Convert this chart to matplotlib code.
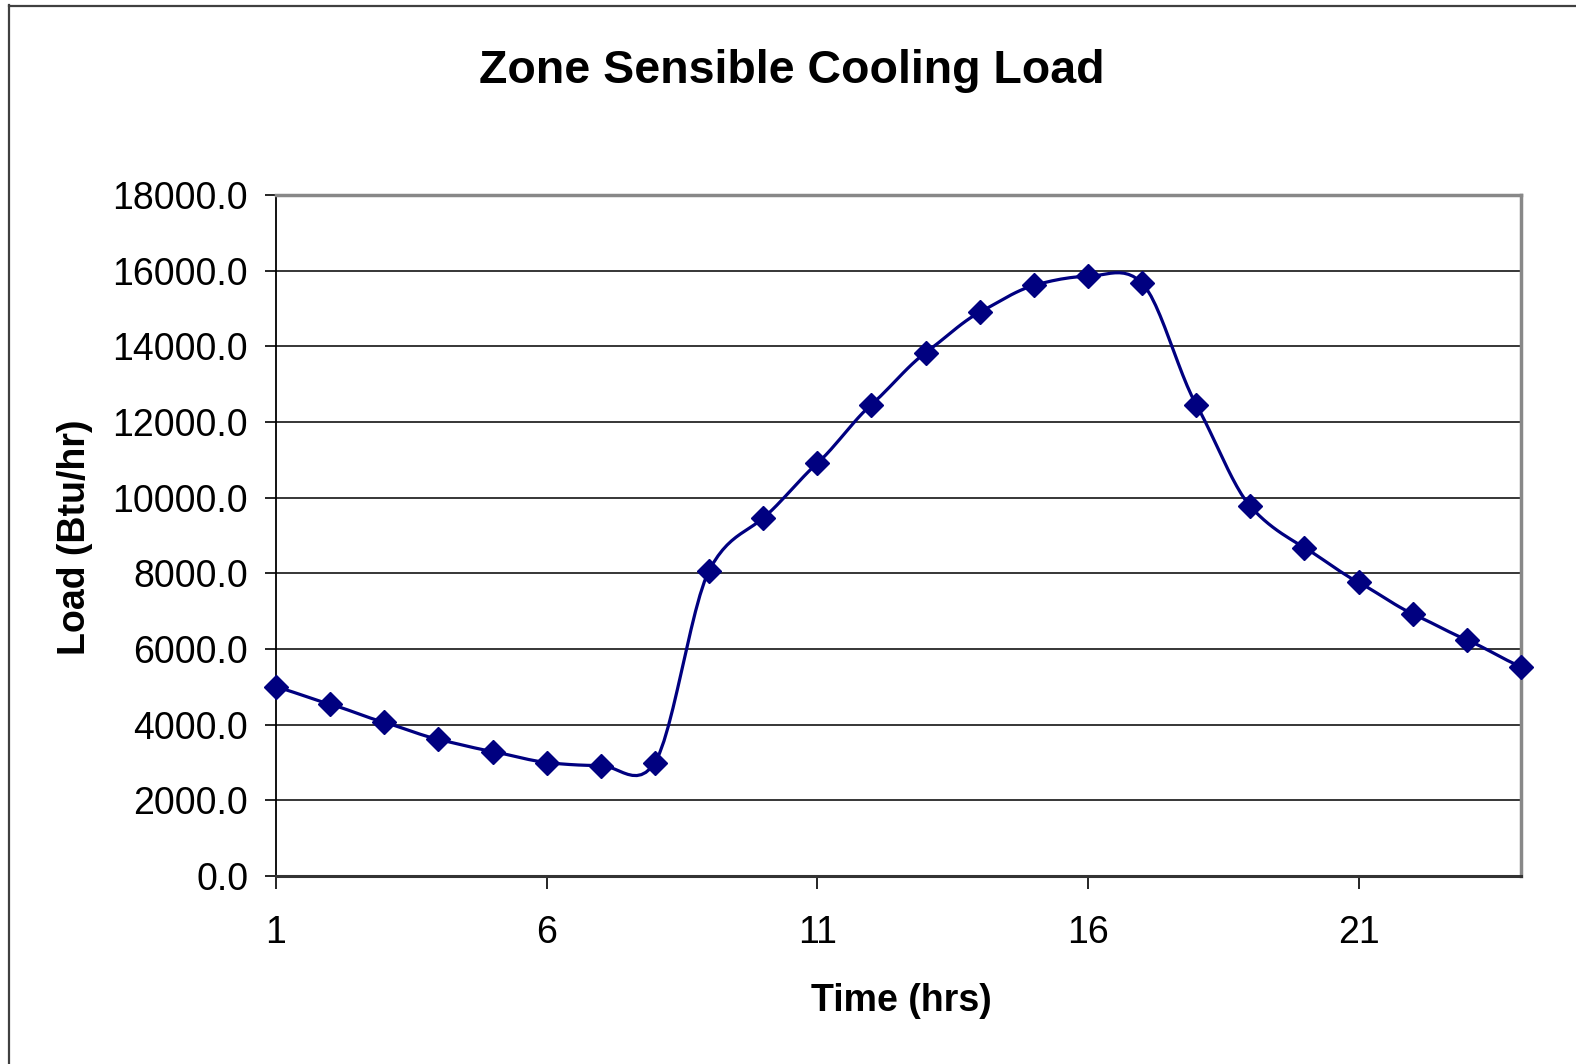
import numpy as np
import matplotlib
matplotlib.use("Agg")
import matplotlib.pyplot as plt
from matplotlib.lines import Line2D

plt.rcParams['font.family'] = ['Liberation Sans', 'DejaVu Sans']

hours = list(range(1, 25))
load = [5000, 4540, 4060, 3610, 3290, 3000, 2920, 3000, 8070, 9460,
        10910, 12460, 13830, 14900, 15610, 15850, 15670, 12460, 9770, 8680,
        7760, 6930, 6240, 5530]
xticks = [1, 6, 11, 16, 21]
yticks = list(range(0, 18001, 2000))

title = "Zone Sensible Cooling Load"
xlabel = "Time (hrs)"
ylabel = "Load (Btu/hr)"
navy = "#000080"


def catmull_rom(x, y, n=12, k=0.85):
    x = np.asarray(x, float)
    y = np.asarray(y, float)
    m = np.empty_like(y)
    m[1:-1] = (y[2:] - y[:-2]) / 2.0
    m[0] = y[1] - y[0]
    m[-1] = y[-1] - y[-2]
    m *= k
    xs, ys = [], []
    for i in range(len(x) - 1):
        t = np.linspace(0, 1, n, endpoint=False)
        h00 = 2 * t**3 - 3 * t**2 + 1
        h10 = t**3 - 2 * t**2 + t
        h01 = -2 * t**3 + 3 * t**2
        h11 = t**3 - t**2
        xs.append(x[i] + t * (x[i + 1] - x[i]))
        ys.append(h00 * y[i] + h10 * m[i] + h01 * y[i + 1] + h11 * m[i + 1])
    xs.append([x[-1]])
    ys.append([y[-1]])
    return np.concatenate(xs), np.concatenate(ys)


fig = plt.figure(figsize=(15.76, 10.64), dpi=100)
W, H = 1576, 1064
ax = fig.add_axes([276 / W, 1 - 876 / H, (1521 - 276) / W, (876 - 195) / H])

sx, sy = catmull_rom(hours, load)
ax.plot(sx, sy, color=navy, lw=2.3, clip_on=False, zorder=3)
ax.plot(hours, load, linestyle='none', marker='D', ms=12.5, color=navy,
        mec=navy, mew=1, clip_on=False, zorder=4)

ax.set_xlim(1, 24)
ax.set_ylim(0, 18000)
ax.set_xticks(xticks)
ax.set_xticklabels([str(v) for v in xticks])
ax.set_yticks(yticks)
ax.set_yticklabels([f"{v:.1f}" for v in yticks])
ax.yaxis.grid(True, color='black', lw=1.1)
ax.set_axisbelow(True)

ax.tick_params(axis='x', direction='out', length=9, width=1.2, labelsize=27, pad=19, colors='black')
ax.tick_params(axis='y', direction='out', length=8, width=1.2, labelsize=27, pad=12, colors='black')

ax.spines['left'].set_color('black')
ax.spines['left'].set_linewidth(1.3)
ax.spines['bottom'].set_color('#333333')
ax.spines['bottom'].set_linewidth(2.2)
for s in ('top', 'right'):
    ax.spines[s].set_color('#888888')
    ax.spines[s].set_linewidth(2.5)

fig.text(792 / W, 1 - 71 / H, title, ha='center', va='center', fontsize=33.5, fontweight='bold')
fig.text(901 / W, 1 - 1001 / H, xlabel, ha='center', va='center', fontsize=27, fontweight='bold')
fig.text(75 / W, 1 - 537 / H, ylabel, ha='center', va='center', fontsize=27, fontweight='bold', rotation=90)

# outer chart frame (extends beyond right and bottom of image)
fig.add_artist(Line2D([8.5 / W, 8.5 / W], [1 - 5 / H, -0.01], transform=fig.transFigure, color='#404040', lw=1.6))
fig.add_artist(Line2D([8.5 / W, 1.01], [1 - 5.5 / H, 1 - 5.5 / H], transform=fig.transFigure, color='#404040', lw=1.6))

fig.savefig("out.png", dpi=100, facecolor='white')
